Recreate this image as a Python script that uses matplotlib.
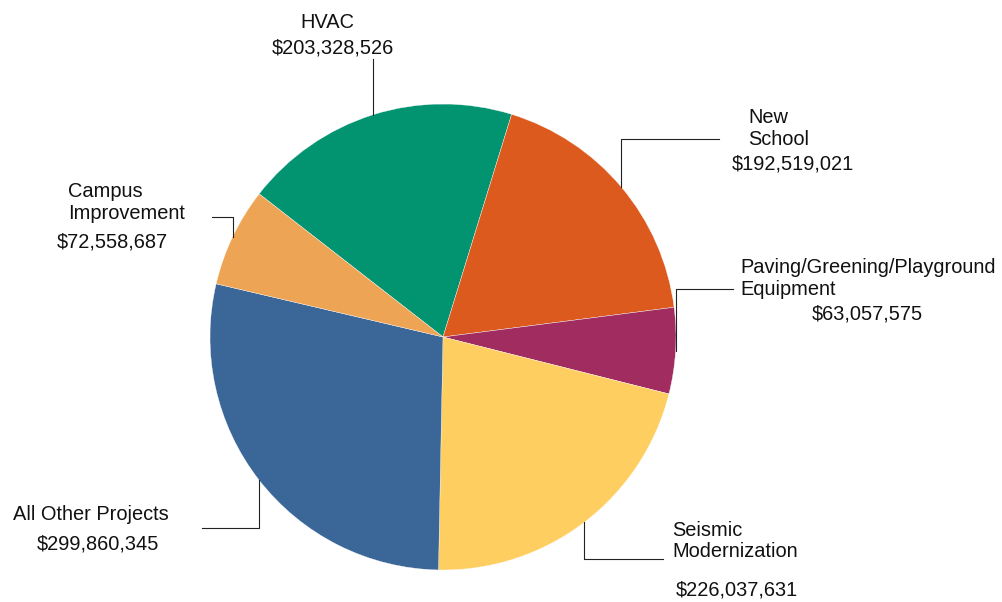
import numpy as np
import matplotlib
matplotlib.use("Agg")
import matplotlib.pyplot as plt

# data
categories = ["HVAC", "New School", "Paving/Greening/Playground Equipment",
              "Seismic Modernization", "All Other Projects", "Campus Improvement"]
values = [203328526, 192519021, 63057575, 226037631, 299860345, 72558687]
colors = ["#029471", "#DD5A1F", "#A12C5F", "#FECE60", "#3B6798", "#EDA454"]

W, H = 1003, 602

plt.rcParams["font.family"] = ["Liberation Sans", "DejaVu Sans"]

fig = plt.figure(figsize=(W / 100, H / 100), dpi=100)
ax = fig.add_axes([0, 0, 1, 1])

wedges, _ = ax.pie(values, colors=colors, startangle=142.1, counterclock=False,
                   center=(443, H - 337), radius=233,
                   wedgeprops=dict(edgecolor="white", linewidth=0.25))
ax.set_xlim(0, W)
ax.set_ylim(0, H)
ax.set_aspect("equal")
ax.axis("off")

# label layout in pixel coords (y from top): text lines, leader elbow y, leader end x
layout = [
    ([("HVAC", 327, 22, "center"), ("$203,328,526", 333, 47, "center")], 59, None),
    ([("New", 748, 117, "left"), ("School", 748, 139, "left"),
      ("$192,519,021", 732, 163, "left")], 139, 719),
    ([("Paving/Greening/Playground", 740, 267, "left"), ("Equipment", 740, 289, "left"),
      ("$63,057,575", 812, 313, "left")], 289, 733),
    ([("Seismic", 672, 530, "left"), ("Modernization", 672, 551, "left"),
      ("$226,037,631", 676, 589, "left")], 559, 663),
    ([("All Other Projects", 13, 514, "left"), ("$299,860,345", 37, 544, "left")], 528, 202),
    ([("Campus", 68, 191, "left"), ("Improvement", 68, 213, "left"),
      ("$72,558,687", 57, 242, "left")], 217, 212),
]

for w, (lines, elbow_y, end_x) in zip(wedges, layout):
    mid = np.deg2rad((w.theta1 + w.theta2) / 2)
    x0 = w.center[0] + w.r * np.cos(mid)
    y0 = w.center[1] + w.r * np.sin(mid)
    xs = [x0, x0]
    ys = [y0, H - elbow_y]
    if end_x is not None:
        xs.append(end_x)
        ys.append(H - elbow_y)
    ax.plot(xs, ys, color="#222222", linewidth=0.8)
    for txt, tx, ty, ha in lines:
        ax.text(tx, H - ty + 1.5, txt, ha=ha, va="center_baseline",
                fontsize=14.4, color="#111111")

fig.savefig("out.png", dpi=100)
